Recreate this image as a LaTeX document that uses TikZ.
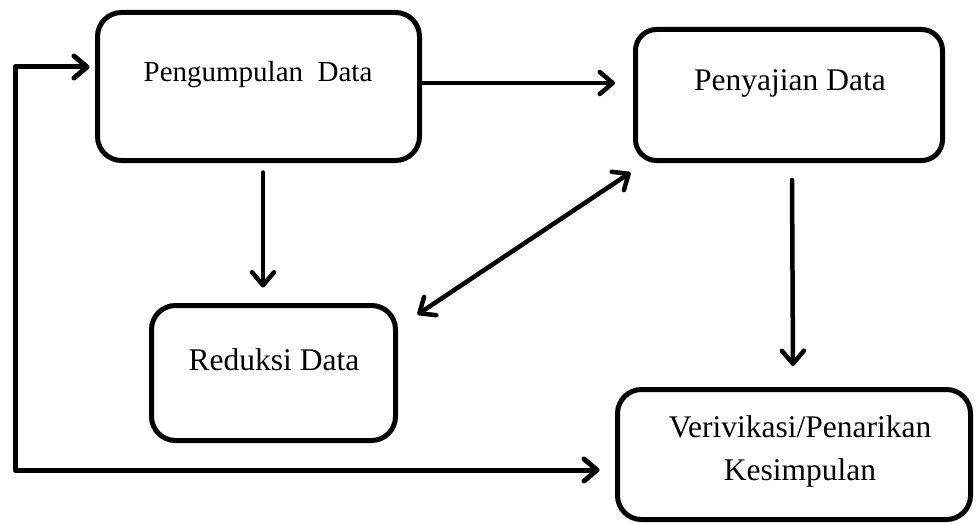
\documentclass[tikz,border=0pt]{standalone}
\usepackage{fontspec}
\setmainfont{Liberation Serif}
\usetikzlibrary{arrows.meta,calc}
\begin{document}
\begin{tikzpicture}[x=1pt,y=-1pt,
  box/.style={draw=black,line width=5pt,rounded corners=24pt,inner sep=0pt},
  txt/.style={inner sep=0pt,anchor=base,font=\fontsize{31.5}{43}\selectfont},
  arr/.style={line width=4.5pt,line cap=round,line join=round,
    -{Straight Barb[length=13pt,width=22pt,round]}},
  arrb/.style={line width=4.5pt,line cap=round,line join=round,
    {Straight Barb[length=13pt,width=22pt,round]}-{Straight Barb[length=13pt,width=22pt,round]}}]
\useasboundingbox (0,0) rectangle (976,524);

% boxes
\node[box,minimum width=322pt,minimum height=148pt] (pd) at (258.5,86.5) {};
\node[box,minimum width=307pt,minimum height=131pt,rounded corners=21pt] (ps) at (789,95) {};
\node[box,minimum width=244pt,minimum height=135pt] (rd) at (273.5,373) {};
\node[box,minimum width=353pt,minimum height=130pt] (vk) at (794,454.5) {};

% texts
\node[txt,font=\fontsize{29}{34}\selectfont] (pdt) at (258,82) {Pengumpulan\ \ Data};
\node[txt] (pst) at (790,91) {Penyajian Data};
\node[txt] (rdt) at (274,370) {Reduksi Data};
\node[txt] (vkt1) at (800,437) {Verivikasi/Penarikan};
\node[txt] (vkt2) at (800,480) {Kesimpulan};

% connectors
\draw[arr] ($(pd.east)+(0,-3.5)$) -- ($(ps.west |- pd.east)+(-18,-3.5)$);
\draw[arr] ($(pd.south)+(4.5,9.5)$) -- ($(rd.north)+(-10.5,-15.5)$);
\draw[arrb] ($(rd.north east)+(19.5,11.5)$) -- ($(ps.south west)+(-2.5,9.5)$);
\draw[arr] ($(ps.south)+(3,17)$) -- ($(vk.north)+(-1,-21)$);

\coordinate (c1) at (15,470);
\coordinate (c2) at (15,67);
\draw[arrb,line width=5pt] ($(vk.west)+(-15.5,15.5)$) -- (c1) -- (c2) -- ($(pd.west)+(-5.5,-19.5)$);
\end{tikzpicture}
\end{document}
